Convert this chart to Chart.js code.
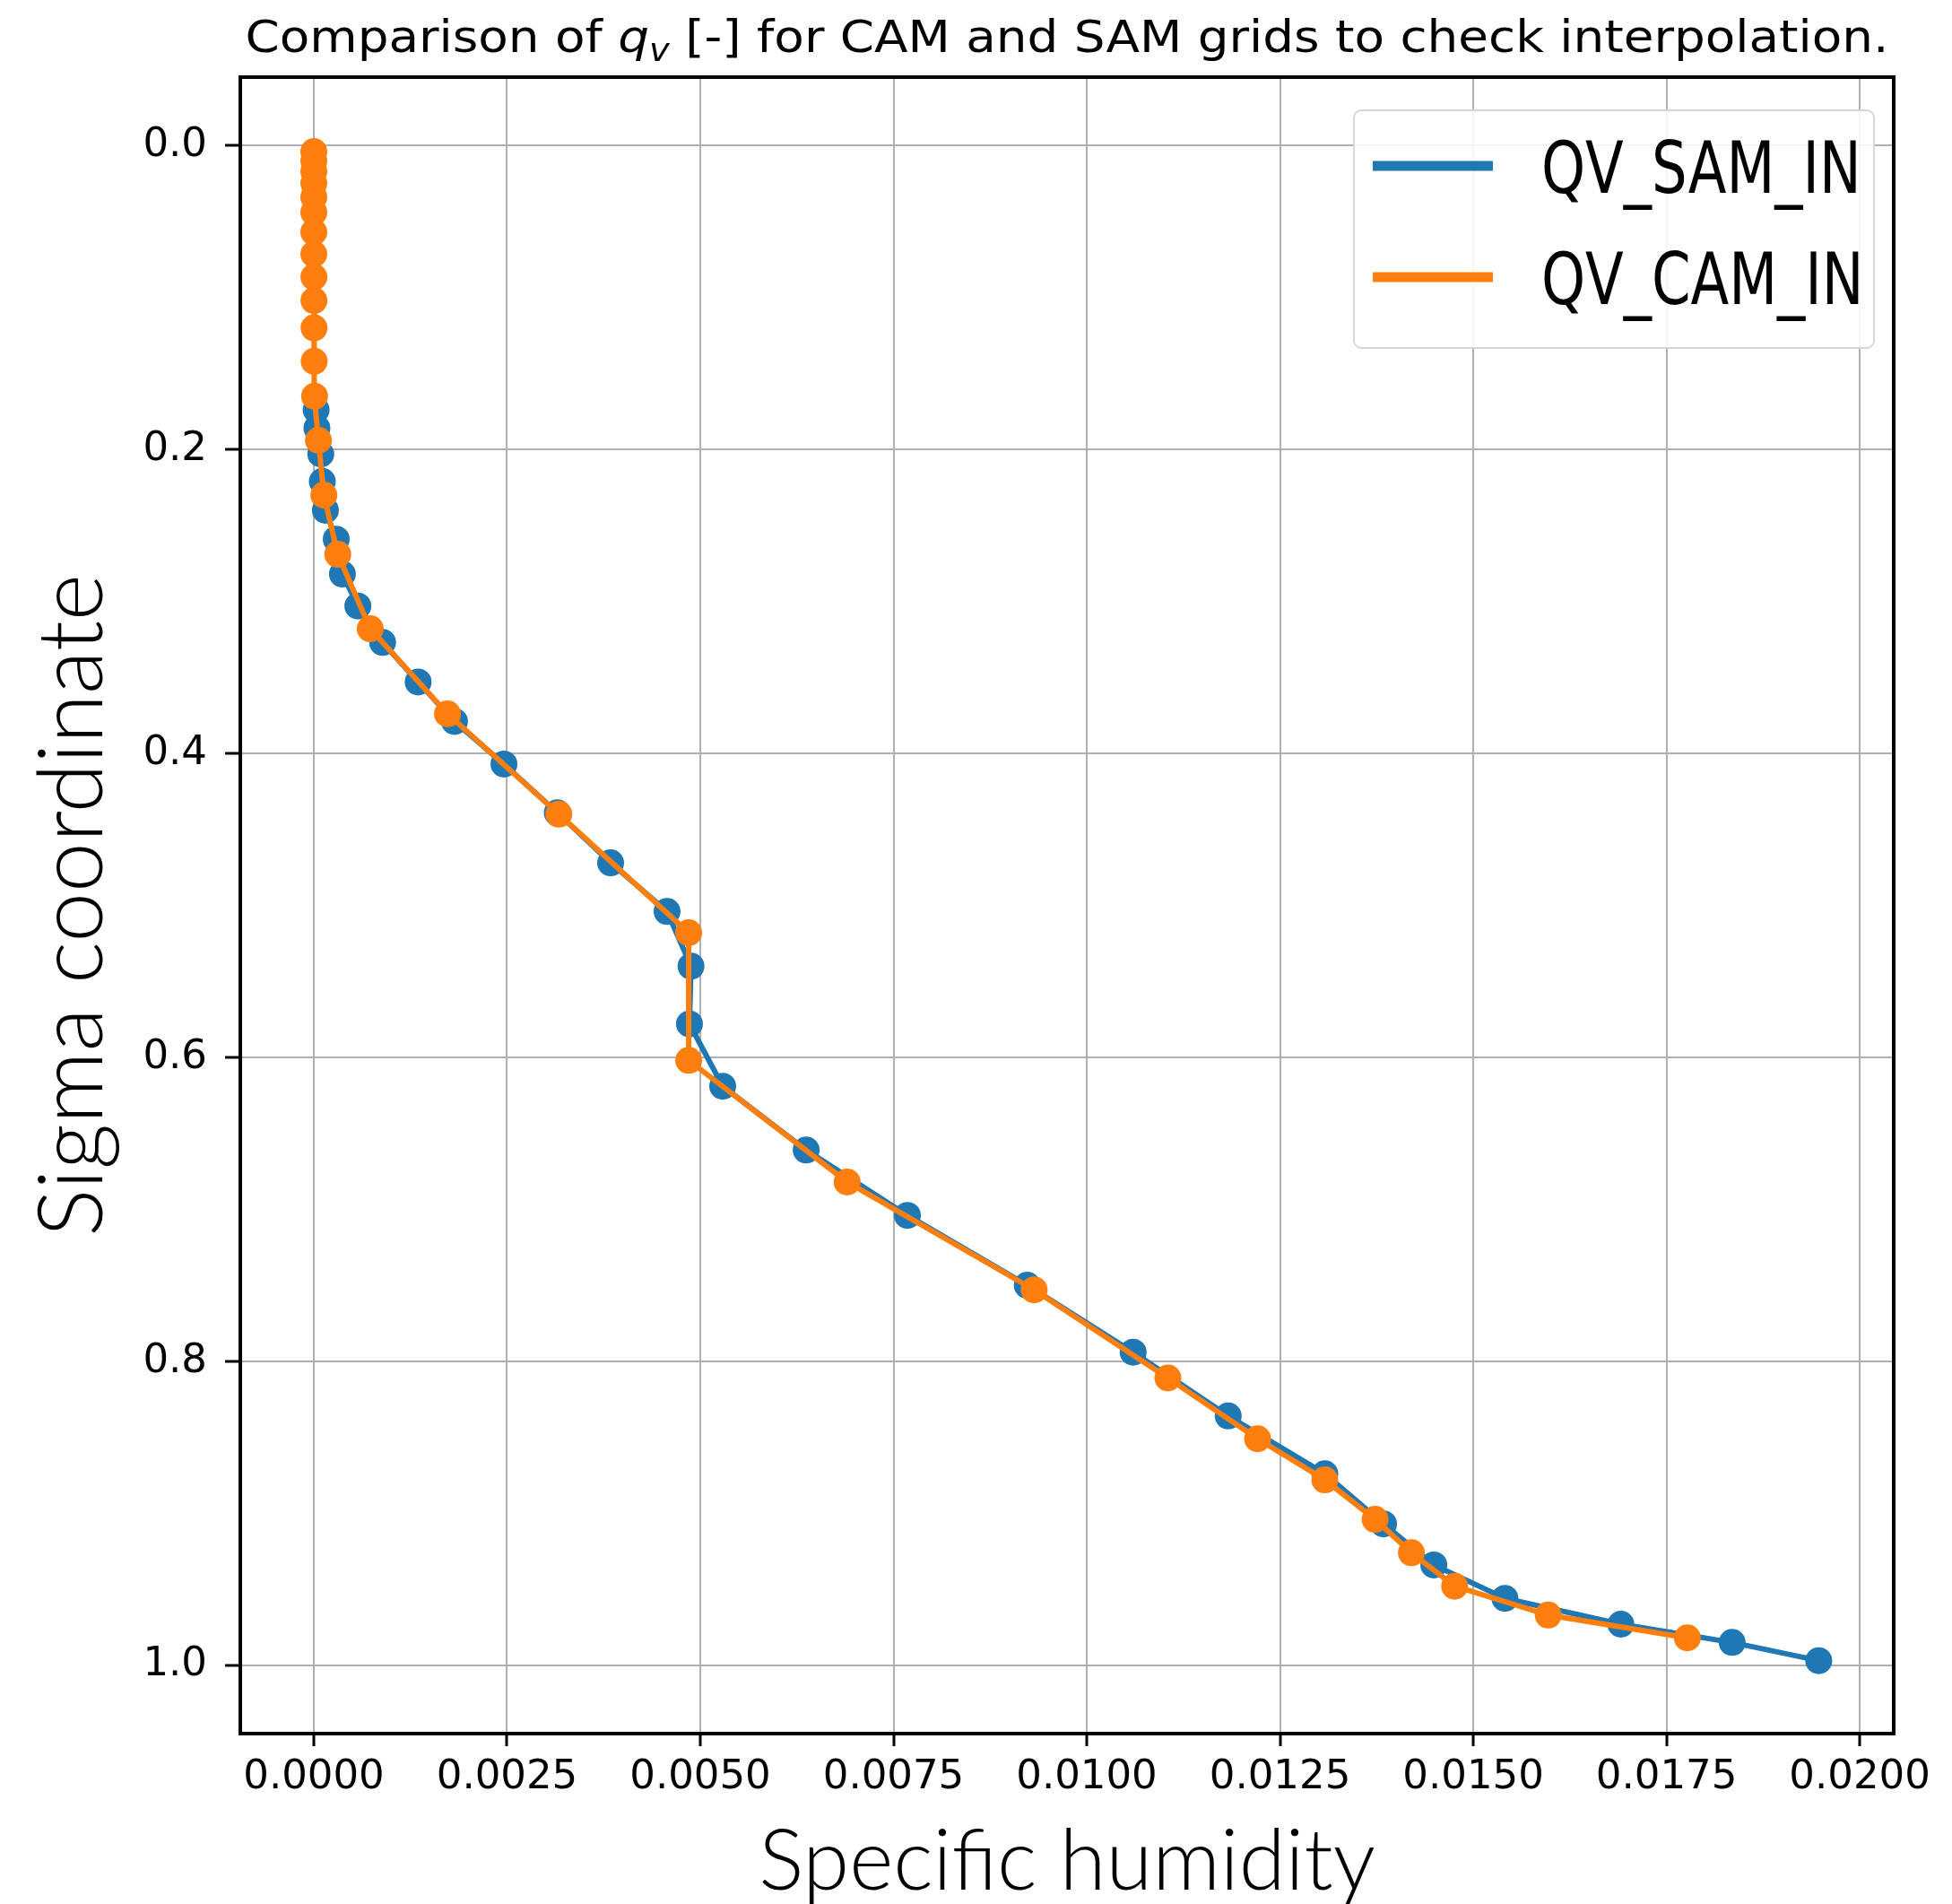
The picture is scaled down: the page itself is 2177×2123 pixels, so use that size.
<!DOCTYPE html>
<html>
<head>
<meta charset="utf-8">
<script src="https://cdn.jsdelivr.net/npm/chart.js@4.4.1/dist/chart.umd.min.js"></script>
<style>
  html, body { margin: 0; padding: 0; background: #fff; }
  #wrap { width: 2177px; height: 2123px; }
</style>
</head>
<body>
<div id="wrap"><canvas id="qvChart" width="2177" height="2123"></canvas></div>
<script>
// SAM grid (blue)
const samSigma = [0.174, 0.186, 0.203, 0.221, 0.240, 0.259, 0.282, 0.303, 0.327, 0.353,
                  0.379, 0.407, 0.439, 0.472, 0.504, 0.540, 0.578, 0.619, 0.661, 0.704,
                  0.750, 0.794, 0.836, 0.874, 0.907, 0.934, 0.956, 0.973, 0.985, 0.997];
const samQv = [0.00003, 0.00004, 0.00009, 0.00011, 0.00015, 0.00029, 0.00037, 0.00057, 0.00089, 0.00135,
               0.00182, 0.00246, 0.00315, 0.00384, 0.00457, 0.00488, 0.00486, 0.00529, 0.00637, 0.00768,
               0.00923, 0.01060, 0.01183, 0.01308, 0.01384, 0.01449, 0.01541, 0.01691, 0.01835, 0.01947];

// CAM grid (orange)
const camSigma = [0.004, 0.010, 0.017, 0.025, 0.034, 0.044, 0.057, 0.0714, 0.0865, 0.102,
                  0.120, 0.142, 0.165, 0.194, 0.230, 0.269, 0.318, 0.374, 0.440, 0.518,
                  0.602, 0.682, 0.753, 0.811, 0.851, 0.878, 0.904, 0.926, 0.948, 0.967, 0.982];
const camQv = [0, 0, 0, 0, 0, 0, 0, 0, 0.000001, 0.000002,
               0.000003, 0.000005, 0.00001, 0.00006, 0.00013, 0.00031, 0.00073, 0.00173, 0.00317, 0.00485,
               0.00485, 0.00690, 0.00932, 0.01105, 0.01221, 0.01308, 0.01373, 0.01420, 0.01476, 0.01597, 0.01777];

const xTicks = [0, 0.0025, 0.005, 0.0075, 0.01, 0.0125, 0.015, 0.0175, 0.02];
const yTicks = [0, 0.2, 0.4, 0.6, 0.8, 1.0];
const seriesNames = ['QV_SAM_IN', 'QV_CAM_IN'];
const seriesColors = ['#1f77b4', '#ff7f0e'];

function toPoints(xs, ys) {
    return xs.map((x, i) => ({ x: x, y: ys[i] }));
}

// title with a small math part: q_v
const titlePlugin = {
    id: 'mathTitle',
    afterDraw(chart) {
        const ctx = chart.ctx;
        const size = 50;
        const parts = [
            { text: 'Comparison of ', font: `${size}px "DejaVu Sans"`, dy: 0 },
            { text: 'q', font: `italic ${size}px "DejaVu Sans"`, dy: 0 },
            { text: 'v', font: `italic ${Math.round(size * 0.7)}px "DejaVu Sans"`, dy: size * 0.2 },
            { text: ' [-] for CAM and SAM grids to check interpolation.', font: `${size}px "DejaVu Sans"`, dy: 0 }
        ];
        ctx.save();
        let total = 0;
        parts.forEach(p => { ctx.font = p.font; p.w = ctx.measureText(p.text).width; total += p.w; });
        const stretch = 1833 / total;
        const cx = (chart.chartArea.left + chart.chartArea.right) / 2;
        ctx.translate(cx - total * stretch / 2, 58);
        ctx.scale(stretch, 1);
        ctx.fillStyle = '#000';
        ctx.textBaseline = 'alphabetic';
        let x = 0;
        parts.forEach(p => {
            ctx.font = p.font;
            ctx.fillText(p.text, x, p.dy);
            x += p.w;
        });
        ctx.restore();
    }
};

const framePlugin = {
    id: 'frame',
    afterDatasetsDraw(chart) {
        const { ctx, chartArea } = chart;
        ctx.save();
        ctx.strokeStyle = '#000';
        ctx.lineWidth = 4;
        ctx.strokeRect(chartArea.left, chartArea.top, chartArea.right - chartArea.left, chartArea.bottom - chartArea.top);
        ctx.restore();
    }
};

const legendPlugin = {
    id: 'boxLegend',
    afterDraw(chart) {
        const { ctx, chartArea } = chart;
        const right = chartArea.right - 22;
        const top = chartArea.top + 37;
        const w = 580, h = 265;
        const left = right - w;
        ctx.save();
        ctx.fillStyle = 'rgba(255,255,255,0.88)';
        ctx.strokeStyle = '#d6d6d6';
        ctx.lineWidth = 2;
        ctx.beginPath();
        ctx.roundRect(left, top, w, h, 8);
        ctx.fill();
        ctx.stroke();
        chart.data.datasets.forEach((ds, i) => {
            const y = top + 62 + i * 124;
            ctx.strokeStyle = ds.borderColor;
            ctx.lineWidth = 11;
            ctx.lineCap = 'butt';
            ctx.beginPath();
            ctx.moveTo(left + 21, y);
            ctx.lineTo(left + 155, y);
            ctx.stroke();
            ctx.save();
            ctx.translate(left + 209, y + 30);
            ctx.scale(0.78, 1);
            ctx.font = '80px "DejaVu Sans"';
            ctx.fillStyle = '#000';
            ctx.textBaseline = 'alphabetic';
            ctx.fillText(ds.label, 0, 0);
            ctx.restore();
        });
        ctx.restore();
    }
};

const ctx = document.getElementById('qvChart').getContext('2d');
new Chart(ctx, {
    type: 'scatter',
    data: {
        datasets: [
            {
                label: seriesNames[0],
                data: toPoints(samQv, samSigma),
                showLine: true,
                borderColor: seriesColors[0],
                backgroundColor: seriesColors[0],
                borderWidth: 6,
                pointRadius: 15,
                pointHoverRadius: 15,
                pointBorderWidth: 0,
                tension: 0,
                order: 2
            },
            {
                label: seriesNames[1],
                data: toPoints(camQv, camSigma),
                showLine: true,
                borderColor: seriesColors[1],
                backgroundColor: seriesColors[1],
                borderWidth: 6,
                pointRadius: 15,
                pointHoverRadius: 15,
                pointBorderWidth: 0,
                tension: 0,
                order: 1
            }
        ]
    },
    options: {
        responsive: false,
        animation: false,
        devicePixelRatio: 1,
        layout: { padding: { top: 86, right: 65, bottom: 0, left: 0 } },
        plugins: {
            legend: { display: false },
            tooltip: { enabled: false },
            title: { display: false }
        },
        scales: {
            x: {
                type: 'linear',
                position: 'bottom',
                min: -0.000951,
                max: 0.02044,
                afterBuildTicks: s => { s.ticks = xTicks.map(v => ({ value: v })); },
                afterFit: s => { s.height = 190; },
                ticks: {
                    callback: v => Number(v).toFixed(4),
                    font: { family: 'DejaVu Sans', size: 45 },
                    color: '#000',
                    padding: 8,
                    maxRotation: 0,
                    autoSkip: false
                },
                grid: { color: '#b0b0b0', lineWidth: 2, tickLength: 14, tickColor: '#000', tickWidth: 3 },
                border: { color: '#000', width: 4 },
                title: {
                    display: true,
                    text: 'Specific humidity',
                    font: { family: 'Lato', size: 94, weight: 300 },
                    color: '#000',
                    padding: { top: 0, bottom: -10 }
                }
            },
            y: {
                type: 'linear',
                reverse: true,
                min: -0.045,
                max: 1.045,
                afterBuildTicks: s => { s.ticks = yTicks.map(v => ({ value: v })); },
                afterFit: s => { s.width = 268; },
                ticks: {
                    callback: v => Number(v).toFixed(1),
                    font: { family: 'DejaVu Sans', size: 45 },
                    color: '#000',
                    padding: 20
                },
                grid: { color: '#b0b0b0', lineWidth: 2, tickLength: 17, tickColor: '#000', tickWidth: 3 },
                border: { color: '#000', width: 4 },
                title: {
                    display: true,
                    text: 'Sigma coordinate',
                    font: { family: 'Lato', size: 100, weight: 300 },
                    color: '#000',
                    padding: { top: 22, bottom: 0 }
                }
            }
        }
    },
    plugins: [framePlugin, legendPlugin, titlePlugin]
});
</script>
</body>
</html>
